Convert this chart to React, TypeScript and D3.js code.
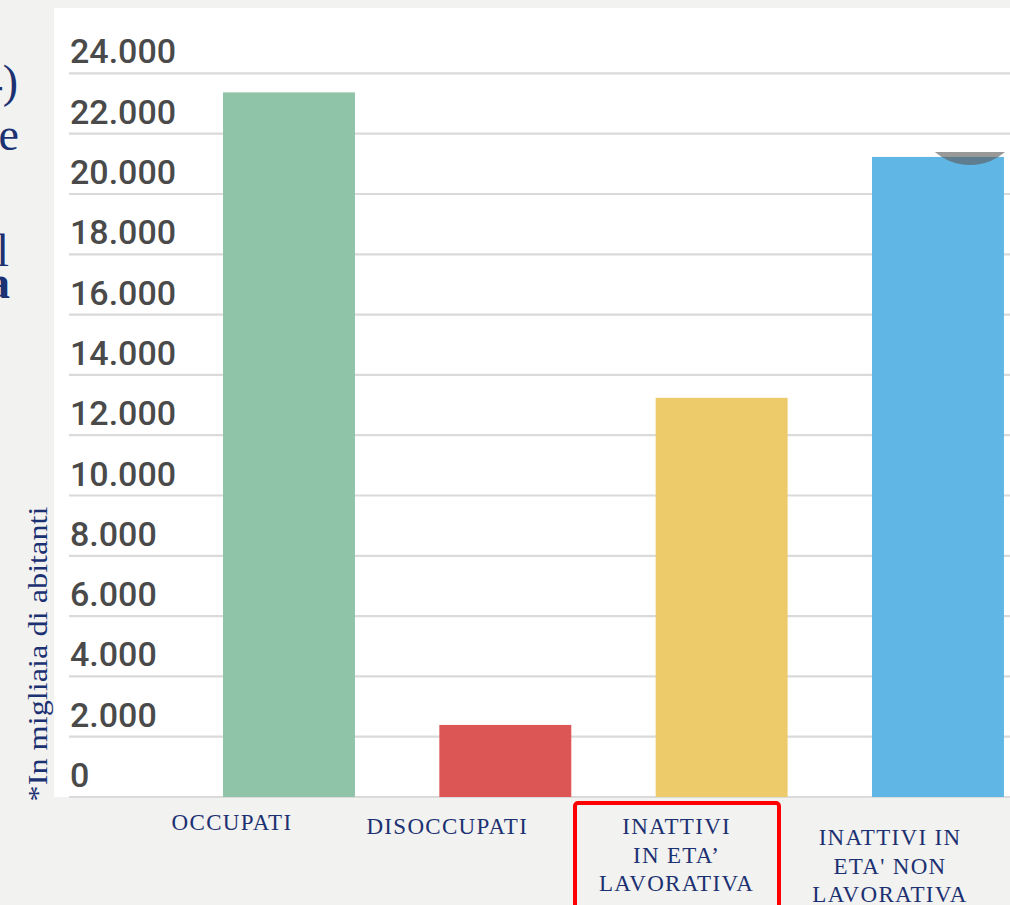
import React from "react";
import * as d3 from "d3";

const categories = ["OCCUPATI", "DISOCCUPATI", "INATTIVI IN ETA' LAVORATIVA", "INATTIVI IN ETA' NON LAVORATIVA"];
const values = [23370, 2390, 13240, 21230];
const barColors = ["#8fc4a9", "#dd5656", "#eecb6a", "#60b6e4"];
const labelLines = [["OCCUPATI"], ["DISOCCUPATI"], ["INATTIVI", "IN ETA’", "LAVORATIVA"], ["INATTIVI IN", "ETA' NON", "LAVORATIVA"]];
const tickValues = [0, 2000, 4000, 6000, 8000, 10000, 12000, 14000, 16000, 18000, 20000, 22000, 24000];
const yAxisTitle = "*In migliaia di abitanti";

// layout
const W = 1010, H = 905;
const labelDx = [-57, -58, -45, -48];
const labelY0 = [830, 834, 834, 845];
const labelLineH = [28.5, 28.5, 28.5, 28.5];
const NAVY = "#1c3172";

export default function App() {
  const y = d3.scaleLinear().domain([0, 24000]).range([797, 73.4]);
  const step = 216.33;
  const x = d3
    .scaleBand<string>()
    .domain(categories)
    .range([223 - 0.195 * step, 223 - 0.195 * step + 4 * step])
    .paddingInner(0.39)
    .paddingOuter(0.195);
  const fmt = (v: number) => d3.format(",")(v).replace(/,/g, ".");

  const lastCx = (x(categories[3]) ?? 0) + x.bandwidth() / 2 + 32;

  return (
    <svg width={W} height={H} style={{ position: "absolute", left: 0, top: 0 }}>
      <defs>
        <clipPath id="circClip">
          <rect x={0} y={152} width={W} height={100} />
        </clipPath>
      </defs>
      <rect x={0} y={0} width={W} height={H} fill="#f2f2f0" />
      <rect x={54} y={8} width={W - 54} height={789} fill="#ffffff" />

      {/* partial slide text on the left edge */}
      <g fill={NAVY} fontFamily="'Liberation Serif', serif" fontSize={46} textAnchor="end">
        <text x={18} y={97}>4)</text>
        <text x={19} y={150}>le</text>
        <text x={9} y={266}>al</text>
        <text x={10} y={298} fontWeight="bold">la</text>
      </g>

      {/* gridlines */}
      {tickValues.map((t) => (
        <line key={"g" + t} x1={69} x2={W} y1={y(t)} y2={y(t)} stroke="#dadada" strokeWidth={2.2} />
      ))}

      {/* tick labels */}
      {tickValues.map((t) => (
        <text
          key={"t" + t}
          x={70}
          y={y(t) - 10}
          fontFamily="Roboto, sans-serif"
          fontWeight={500}
          fontSize={34}
          fill="#4a4a4a"
        >
          {fmt(t)}
        </text>
      ))}

      {/* bars */}
      {categories.map((c, i) => (
        <rect
          key={c}
          x={x(c)}
          y={y(values[i])}
          width={x.bandwidth()}
          height={y(0) - y(values[i])}
          fill={barColors[i]}
        />
      ))}

      {/* grey blob over last bar top */}
      <circle cx={lastCx} cy={111} r={54} fill="rgba(94,94,94,0.63)" clipPath="url(#circClip)" />

      {/* y axis title */}
      <text
        transform={`translate(47,654) rotate(-90)`}
        textAnchor="middle"
        fontFamily="'Liberation Serif', serif"
        fontSize={28}
        fill={NAVY}
        textLength={295}
        lengthAdjust="spacingAndGlyphs"
      >
        {yAxisTitle}
      </text>

      {/* category labels */}
      {categories.map((c, i) => {
        const cx = (x(c) ?? 0) + x.bandwidth() / 2 + labelDx[i];
        return (
          <text
            key={"l" + c}
            textAnchor="middle"
            fontFamily="'Liberation Serif', serif"
            fontSize={23}
            letterSpacing={1.3}
            fill={NAVY}
          >
            {labelLines[i].map((ln, j) => (
              <tspan key={j} x={cx} y={labelY0[i] + j * labelLineH[i]}>
                {ln}
              </tspan>
            ))}
          </text>
        );
      })}

      {/* highlight box */}
      <rect x={575} y={803} width={204} height={110} rx={3} fill="none" stroke="#ff0000" strokeWidth={4} />
    </svg>
  );
}
